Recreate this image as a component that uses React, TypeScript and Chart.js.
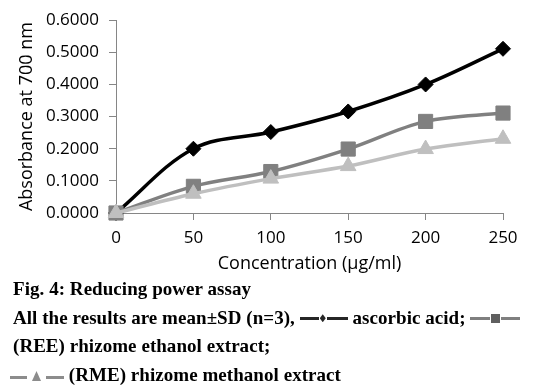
import React, { useEffect, useRef } from 'react';
import { Chart, registerables } from 'chart.js';

Chart.register(...registerables);

// ---- data ----
const concentrations = [0, 50, 100, 150, 200, 250];
const ascorbicAcid = [0, 0.2, 0.252, 0.316, 0.4, 0.511];
const reeExtract = [0, 0.083, 0.129, 0.199, 0.285, 0.311];
const rmeExtract = [0, 0.06, 0.107, 0.146, 0.199, 0.231];
const xTickValues = [0, 50, 100, 150, 200, 250];
const yTickValues = [0, 0.1, 0.2, 0.3, 0.4, 0.5, 0.6];
const xTitle = 'Concentration (µg/ml)';
const yTitle = 'Absorbance at 700 nm';
const captionTitle = 'Fig. 4: Reducing power assay';
const captionLine2a = 'All the results are mean±SD (n=3), ';
const captionLine2b = ' ascorbic acid; ';
const captionLine3 = '(REE) rhizome ethanol extract;';
const captionLine4 = ' (RME) rhizome methanol extract';

const W = 533;
const CH = 278;
const AXIS = '#868686';

function toPoints(values: number[]) {
  return concentrations.map((c, i) => ({ x: c, y: values[i] }));
}

type GlyphProps = {
  lineColor: string;
  shapeColor: string;
  shape: 'diamond' | 'square' | 'triangle';
  l1: number;
  l2: number;
  sw: number;
  sh: number;
  gap: number;
  lineTop: number;
  shapeTop: number;
};

function Glyph(p: GlyphProps) {
  const total = p.l1 + p.gap + p.sw + p.gap + p.l2;
  const clip =
    p.shape === 'diamond'
      ? 'polygon(50% 0, 100% 50%, 50% 100%, 0 50%)'
      : p.shape === 'triangle'
      ? 'polygon(50% 0, 100% 100%, 0 100%)'
      : 'none';
  return (
    <span
      style={{
        display: 'inline-block',
        position: 'relative',
        width: total,
        height: 10,
        verticalAlign: 0,
        letterSpacing: 0,
      }}
    >
      <span style={{ position: 'absolute', left: 0, top: p.lineTop, width: p.l1, height: 3, background: p.lineColor }} />
      <span
        style={{
          position: 'absolute',
          left: p.l1 + p.gap,
          top: p.shapeTop,
          width: p.sw,
          height: p.sh,
          background: p.shapeColor,
          clipPath: clip,
        }}
      />
      <span
        style={{
          position: 'absolute',
          left: p.l1 + p.gap + p.sw + p.gap,
          top: p.lineTop,
          width: p.l2,
          height: 3,
          background: p.lineColor,
        }}
      />
    </span>
  );
}

export default function App() {
  const canvasRef = useRef<HTMLCanvasElement | null>(null);

  useEffect(() => {
    const canvas = canvasRef.current;
    if (!canvas) return;
    const chart = new Chart(canvas, {
      type: 'line',
      data: {
        datasets: [
          {
            label: 'ascorbic acid',
            data: toPoints(ascorbicAcid),
            borderColor: '#000000',
            backgroundColor: '#000000',
            borderWidth: 3.5,
            pointStyle: 'rectRot',
            pointRadius: 7.5,
            pointBorderWidth: 1,
            tension: 0.35,
            clip: false,
            order: 2,
          },
          {
            label: '(REE) rhizome ethanol extract',
            data: toPoints(reeExtract),
            borderColor: '#808080',
            backgroundColor: '#808080',
            borderWidth: 3.5,
            pointStyle: 'rect',
            pointRadius: 10,
            pointBorderWidth: 1,
            tension: 0.35,
            clip: false,
            order: 1,
          },
          {
            label: '(RME) rhizome methanol extract',
            data: toPoints(rmeExtract),
            borderColor: '#BFBFBF',
            backgroundColor: '#BFBFBF',
            borderWidth: 3.5,
            pointStyle: 'triangle',
            pointRadius: 9,
            pointBorderWidth: 1,
            tension: 0.35,
            clip: false,
            order: 0,
          },
        ],
      },
      options: {
        animation: false,
        responsive: false,
        maintainAspectRatio: false,
        layout: { padding: { left: 0, right: 30, top: 18, bottom: 0 } },
        plugins: { legend: { display: false }, tooltip: { enabled: false } },
        scales: {
          x: {
            type: 'linear',
            min: 0,
            max: 250,
            afterFit: (s: any) => {
              s.height = CH - 213;
            },
            afterBuildTicks: (s: any) => {
              s.ticks = xTickValues.map((v) => ({ value: v }));
            },
            grid: { drawOnChartArea: false, drawTicks: true, tickLength: 7, color: AXIS },
            border: { color: AXIS, width: 1 },
            ticks: {
              padding: 8,
              color: '#000',
              font: { family: 'Open Sans', size: 17 },
              callback: (v: any) => String(v),
            },
            title: {
              display: true,
              text: xTitle,
              color: '#000',
              font: { family: 'Open Sans', size: 18 },
              padding: { top: 0, bottom: 3 },
            },
          },
          y: {
            type: 'linear',
            min: 0,
            max: 0.6,
            afterFit: (s: any) => {
              s.width = 116;
            },
            afterBuildTicks: (s: any) => {
              s.ticks = yTickValues.map((v) => ({ value: v }));
            },
            grid: { drawOnChartArea: false, drawTicks: true, tickLength: 7, color: AXIS },
            border: { color: AXIS, width: 1 },
            ticks: {
              padding: 10,
              color: '#000',
              font: { family: 'Open Sans', size: 17 },
              callback: (v: any) => Number(v).toFixed(4),
            },
            title: {
              display: true,
              text: yTitle,
              color: '#000',
              font: { family: 'Open Sans', size: 18 },
              padding: { top: 16, bottom: 0 },
            },
          },
        },
      },
    } as any);
    return () => chart.destroy();
  }, []);

  const lineStyle: React.CSSProperties = { whiteSpace: 'nowrap', height: 28.7 };

  return (
    <div style={{ position: 'absolute', left: 0, top: 0, width: W, height: 390, background: '#fff', overflow: 'hidden' }}>
      <canvas ref={canvasRef} width={W} height={CH} style={{ display: 'block', width: W, height: CH }} />
      <div
        style={{
          position: 'absolute',
          left: 13,
          top: 275,
          fontFamily: '"Liberation Serif", "Times New Roman", serif',
          fontWeight: 'bold',
          fontSize: 19,
          letterSpacing: 0.05,
          lineHeight: '28.7px',
          color: '#000',
        }}
      >
        <div style={lineStyle}>{captionTitle}</div>
        <div style={lineStyle}>
          {captionLine2a}
          <Glyph lineColor="#262626" shapeColor="#262626" shape="diamond" l1={19} l2={21} sw={6} sh={8} gap={1} lineTop={3} shapeTop={0.5} />
          {captionLine2b}
          <Glyph lineColor="#7f7f7f" shapeColor="#5f5f5f" shape="square" l1={20} l2={19} sw={9} sh={9} gap={1} lineTop={3} shapeTop={0} />
        </div>
        <div style={lineStyle}>{captionLine3}</div>
        <div style={{ ...lineStyle, marginLeft: -3 }}>
          <Glyph lineColor="#8c8c8c" shapeColor="#8c8c8c" shape="triangle" l1={17} l2={18} sw={9} sh={10} gap={5} lineTop={4.5} shapeTop={0} />
          {captionLine4}
        </div>
      </div>
    </div>
  );
}
